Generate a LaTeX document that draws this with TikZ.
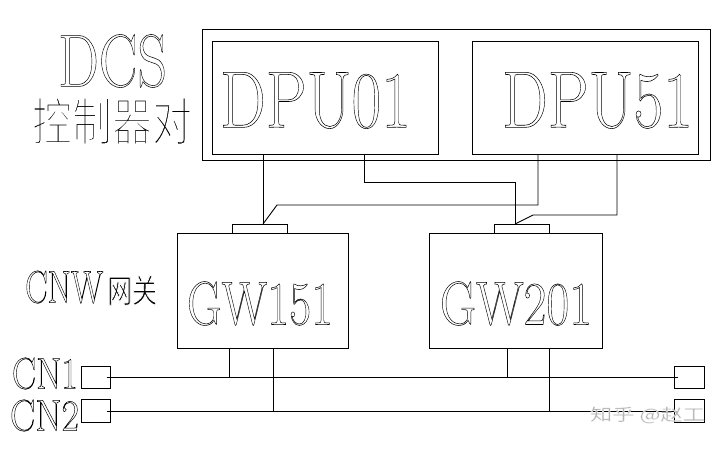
\documentclass[tikz,border=0pt]{standalone}
\usepackage{fontspec}
\newfontfamily\cjk{Noto Sans CJK SC}
\newcommand{\hol}[1]{\special{pdf:literal direct 1 Tr 0.55 w}#1\special{pdf:literal direct 0 Tr}}
\newcommand{\thn}[2]{\special{pdf:literal direct 2 Tr #1 w 1 G}#2\special{pdf:literal direct 0 Tr}}
\newcommand{\ft}[4]{\resizebox{#1pt}{#2pt}{\fontsize{#3}{#3}\selectfont\hol{#4}}}
\newcommand{\fc}[4]{\resizebox*{#1pt}{#2pt}{\fontsize{40}{40}\selectfont\cjk\thn{#3}{#4}}}
\tikzset{
  frame/.style={draw, line width=0.9pt, inner sep=0pt, anchor=north west},
  wire/.style={line width=0.9pt},
  lbl/.style={inner sep=0pt}
}
\begin{document}
\begin{tikzpicture}[x=1pt,y=-1pt]
\useasboundingbox (0,0) rectangle (723,451);
% boxes
\node[frame, minimum width=508pt, minimum height=131pt] (dcs) at (202,29) {};
\node[frame, minimum width=226pt, minimum height=113pt] (dpu01) at (212,41) {};
\node[frame, minimum width=226pt, minimum height=113pt] (dpu51) at (472,41) {};
\node[frame, minimum width=171pt, minimum height=115pt] (gw151) at (177,233) {};
\node[frame, minimum width=173pt, minimum height=115pt] (gw201) at (429,233) {};
\node[frame, minimum width=55pt, minimum height=9pt] (p151) at (232,224) {};
\node[frame, minimum width=55pt, minimum height=9pt] (p201) at (494,224) {};
\node[frame, minimum width=29pt, minimum height=22pt] (cn1l) at (81,366) {};
\node[frame, minimum width=29pt, minimum height=23pt] (cn2l) at (81,399) {};
\node[frame, minimum width=30pt, minimum height=22pt] (cn1r) at (674,366) {};
\node[frame, minimum width=30pt, minimum height=23pt] (cn2r) at (674,399) {};
% texts
\node[lbl] (tdcs) at (112.5,61) {\ft{109}{52}{76}{DCS}};
\node[lbl] (tctl) at (112,121) {\fc{160}{48}{2.0}{控制器对}};
\node[lbl] (tdpu01) at (315.5,100.5) {\ft{191}{55}{80}{DPU01}};
\node[lbl] (tdpu51) at (597.5,100.5) {\ft{191}{55}{80}{DPU51}};
\node[lbl] (tgw151) at (260,303.5) {\ft{146}{43}{63}{GW151}};
\node[lbl] (tgw201) at (516,303.5) {\ft{152}{43}{63}{GW201}};
\node[lbl, anchor=west] (tcnw) at (25,288) {\ft{78}{32}{47}{CNW}\hspace{4pt}\fc{50}{30}{1.1}{网关}};
\node[lbl] (tcn1) at (45,373.5) {\ft{66}{31}{45}{CN1}};
\node[lbl] (tcn2) at (44.5,415.5) {\ft{69}{31}{45}{CN2}};
% bend points
\coordinate (a1) at (263,0);
\coordinate (l2a) at (364,182); \coordinate (l2b) at (515,182);
\coordinate (l3a) at (538,205); \coordinate (l3b) at (277,205);
\coordinate (l4a) at (617,215); \coordinate (l4b) at (533,215);
% DPU to gateway wires
\draw[wire] (a1 |- dpu01.south) -- (a1 |- p151.north);
\draw[wire] (l2a |- dpu01.south) -- (l2a) -- (l2b) -- (l2b |- p201.north);
\draw[wire] (l3a |- dpu51.south) -- (l3a) -- (l3b) -- (a1 |- p151.north);
\draw[wire] (l4a |- dpu51.south) -- (l4a) -- (l4b) -- (l2b |- p201.north);
% buses
\draw[wire] ([xshift=-4pt]cn1l.east) -- ([xshift=4pt]cn1r.west);
\draw[wire] ([xshift=-4pt]cn2l.east) -- ([xshift=4pt]cn2r.west);
\coordinate (v1) at (229,0); \coordinate (v2) at (273,0);
\coordinate (v3) at (507,0); \coordinate (v4) at (549,0);
\draw[wire] (v1 |- gw151.south) -- (v1 |- cn1l.east);
\draw[wire] (v2 |- gw151.south) -- (v2 |- cn2l.east);
\draw[wire] (v3 |- gw201.south) -- (v3 |- cn1l.east);
\draw[wire] (v4 |- gw201.south) -- (v4 |- cn2l.east);
% watermark
\node[lbl, text=black!30] (wm) at (647.5,415) {\fc{115}{17}{0.4}{知乎 @赵工}};
\end{tikzpicture}
\end{document}
